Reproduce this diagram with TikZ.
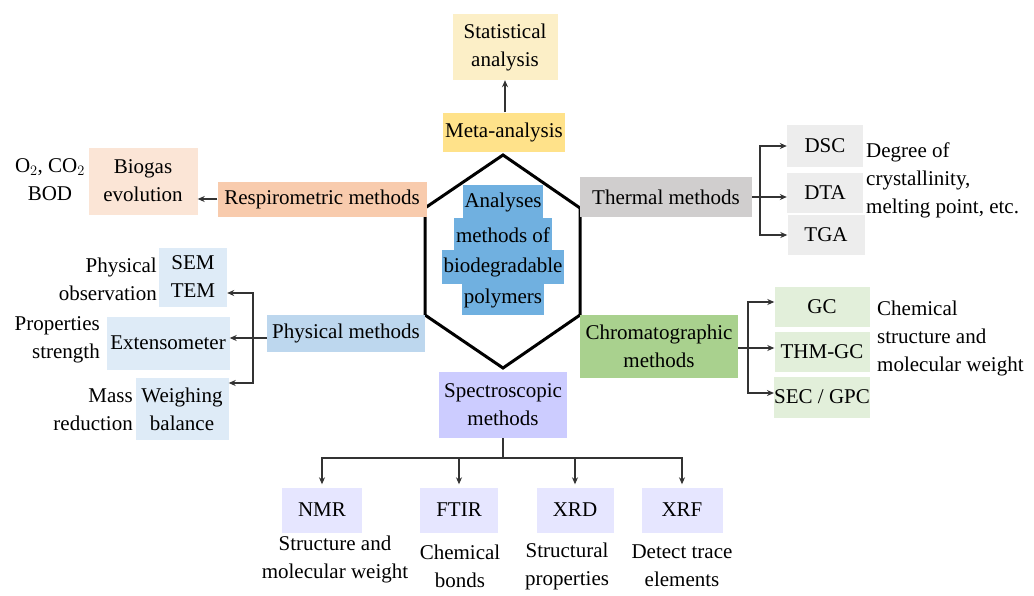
\documentclass[tikz,border=0pt]{standalone}
\usepackage{fontspec}
\setmainfont{Liberation Serif}
\usepackage{xcolor}
\usepackage{tikz}
\usetikzlibrary{arrows.meta}

\definecolor{statbg}{HTML}{FCEFC7}
\definecolor{metabg}{HTML}{FFE28A}
\definecolor{respbg}{HTML}{F8CBAD}
\definecolor{biogbg}{HTML}{FBE5D6}
\definecolor{physbg}{HTML}{BDD7EE}
\definecolor{physlt}{HTML}{DEEBF7}
\definecolor{thermbg}{HTML}{D0CECE}
\definecolor{thermlt}{HTML}{EDEDED}
\definecolor{chrombg}{HTML}{A9D18E}
\definecolor{chromlt}{HTML}{E2EFDA}
\definecolor{specbg}{HTML}{CCCCFF}
\definecolor{speclt}{HTML}{E6E6FF}
\definecolor{hexbg}{HTML}{70B0E0}
\definecolor{linegray}{HTML}{333333}

\begin{document}
\begin{tikzpicture}[x=1pt, y=-1pt,
  every node/.style={font=\fontsize{21}{28}\selectfont, text=black},
  box/.style={align=center, inner sep=0pt},
  hexline/.style={fill=hexbg, inner xsep=2pt, inner ysep=0pt, minimum height=34pt},
  note/.style={inner sep=0pt},
  link/.style={linegray, line width=1.5pt},
  arr/.style={link, -{Stealth[length=7pt, width=6pt]}}]
  \useasboundingbox (0,0) rectangle (1034,595);

  % centre hexagon
  \draw[line width=3pt, line join=miter] (503,155) -- (580,208) -- (580,315) -- (503,368)
    -- (425,315) -- (425,208) -- cycle;
  \node[hexline] (c1) at (503,202) {Analyses};
  \node[hexline] (c4) at (503,298) {polymers};
  \node[hexline] (c3) at (503,267) {biodegradable};
  \node[hexline] (c2) at (503,235) {methods of};

  % top
  \node[box, fill=statbg, minimum width=105pt, minimum height=66pt] (stat) at (505,47) {Statistical\\analysis};
  \node[box, fill=metabg, minimum width=122pt, minimum height=39pt] (meta) at (504,132) {Meta-analysis};
  \draw[arr] (meta.north -| stat.south) -- (stat.south);

  % respirometric
  \node[box, fill=respbg, minimum width=209pt, minimum height=35pt] (resp) at (322,199) {Respirometric methods};
  \node[box, fill=biogbg, minimum width=109pt, minimum height=67pt] (biog) at (143,181) {Biogas\\evolution};
  \node[note, align=center] (gas) at (50,180) {O$_2$, CO$_2$\\BOD};
  \draw[arr] (resp.west) -- (biog.east |- resp.west);

  % physical
  \node[box, fill=physbg, minimum width=158pt, minimum height=37pt] (phys) at (346,333) {Physical methods};
  \node[box, fill=physlt, minimum width=68pt, minimum height=59pt] (sem) at (193,277) {SEM\\TEM};
  \node[box, fill=physlt, minimum width=123pt, minimum height=53pt] (ext) at (168,343) {Extensometer};
  \node[box, fill=physlt, minimum width=93pt, minimum height=62pt] (weigh) at (182,409) {Weighing\\balance};
  \node[note, align=right, anchor=east] (obs) at (157,279) {Physical\\observation};
  \node[note, align=right, anchor=east] (str) at (100,340) {Properties\\strength};
  \node[note, align=right, anchor=east] (mass) at (133,410) {Mass\\reduction};
  \coordinate (pb) at (253,338);
  \draw[link] (phys.west |- pb) -- (pb);
  \draw[arr] (pb) |- ([yshift=-16pt]sem.east);
  \draw[arr] (pb) -- (ext.east |- pb);
  \draw[arr] (pb) |- ([yshift=26pt]weigh.east);

  % thermal
  \node[box, fill=thermbg, minimum width=172pt, minimum height=40pt] (therm) at (666,197) {Thermal methods};
  \node[box, fill=thermlt, minimum width=76pt, minimum height=42pt] (dsc) at (825,146) {DSC};
  \node[box, fill=thermlt, minimum width=76pt, minimum height=40pt] (dta) at (825,193) {DTA};
  \node[box, fill=thermlt, minimum width=77pt, minimum height=40pt] (tga) at (826,235) {TGA};
  \node[note, align=left, anchor=west] (deg) at (866,180) {Degree of\\crystallinity,\\melting point, etc.};
  \coordinate (tb) at (760,197);
  \draw[link] (therm.east) -- (tb);
  \draw[arr] (tb) |- (dsc.west);
  \draw[arr] (tb) -- (dta.west |- tb);
  \draw[arr] (tb) |- (tga.west);

  % chromatographic
  \node[box, fill=chrombg, minimum width=158pt, minimum height=63pt] (chrom) at (659,346) {Chromatographic\\methods};
  \node[box, fill=chromlt, minimum width=95pt, minimum height=40pt] (gc) at (822,307) {GC};
  \node[box, fill=chromlt, minimum width=95pt, minimum height=40pt] (thm) at (822,352) {THM-GC};
  \node[box, fill=chromlt, minimum width=95pt, minimum height=41pt] (sec) at (822,397) {SEC / GPC};
  \node[note, align=left, anchor=west] (chem) at (877,338) {Chemical\\structure and\\molecular weight};
  \coordinate (cb) at (748,348);
  \draw[link] (chrom.east |- cb) -- (cb);
  \draw[arr] (cb) |- ([yshift=5pt]gc.west);
  \draw[arr] (cb) -- (thm.west |- cb);
  \draw[arr] (cb) |- ([yshift=4pt]sec.west);

  % spectroscopic
  \node[box, fill=specbg, minimum width=128pt, minimum height=66pt] (spec) at (503,405) {Spectroscopic\\methods};
  \node[box, fill=speclt, minimum width=80pt, minimum height=45pt] (nmr) at (322,510) {NMR};
  \node[box, fill=speclt, minimum width=78pt, minimum height=45pt] (ftir) at (459,510) {FTIR};
  \node[box, fill=speclt, minimum width=77pt, minimum height=45pt] (xrd) at (575,510) {XRD};
  \node[box, fill=speclt, minimum width=81pt, minimum height=45pt] (xrf) at (682,510) {XRF};
  \node[note, align=center] (nmrt) at (335,559) {Structure and\\molecular weight};
  \node[note, align=center] (ftirt) at (460,566) {Chemical\\bonds};
  \node[note, align=center] (xrdt) at (567,566) {Structural\\properties};
  \node[note, align=center] (xrft) at (682,566) {Detect trace\\elements};
  \coordinate (sb) at (503,458);
  \draw[link] (spec.south) -- (sb);
  \draw[arr] (sb) -| ([yshift=3pt]nmr.north);
  \draw[arr] (sb) -| ([yshift=3pt]ftir.north);
  \draw[arr] (sb) -| ([yshift=3pt]xrd.north);
  \draw[arr] (sb) -| ([yshift=3pt]xrf.north);
\end{tikzpicture}
\end{document}
